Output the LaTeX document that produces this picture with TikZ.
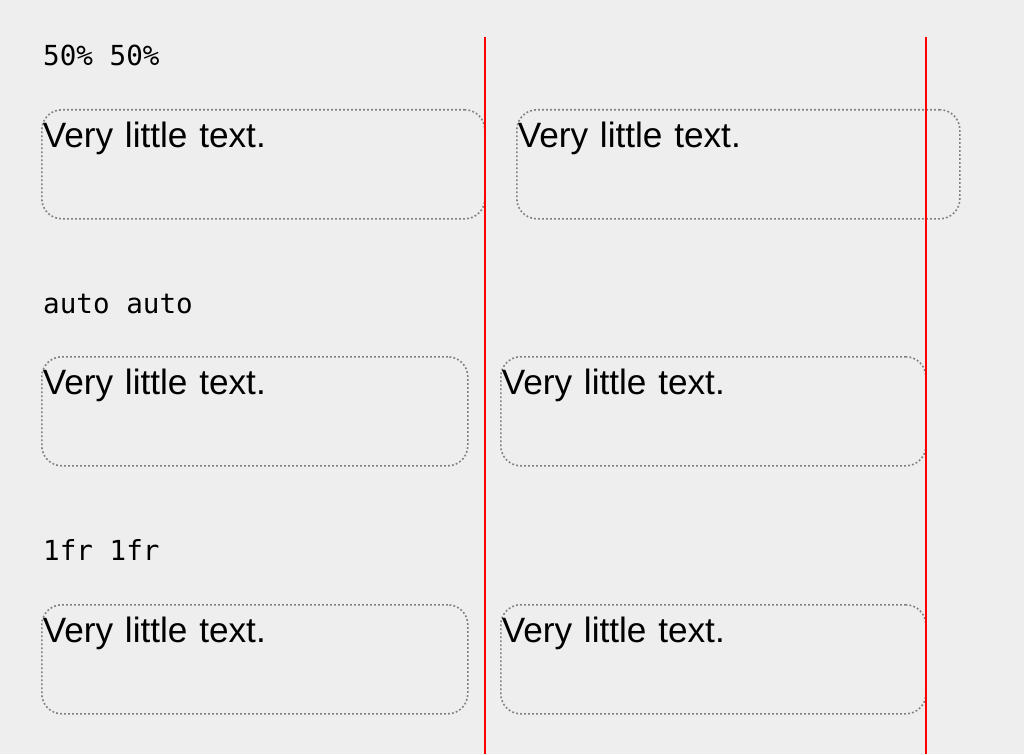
\documentclass[tikz,border=0pt]{standalone}
\usepackage{fontspec}
\setmainfont{Liberation Sans}
\setmonofont{DejaVu Sans Mono}
\usepackage{xcolor}
\usetikzlibrary{positioning,calc}
\definecolor{pagebg}{HTML}{EEEEEE}
\definecolor{cellrule}{HTML}{808080}
\definecolor{guidered}{HTML}{FF0000}

\begin{document}
\begin{tikzpicture}[
  x=1pt, y=-1pt,
  cell/.style={draw=cellrule, line width=1.6pt, dash pattern=on 1.8pt off 2.2pt,
               rounded corners=20pt, anchor=north west, align=left,
               inner xsep=1pt, inner ysep=0pt, text height=38pt, text depth=71pt,
               font=\fontsize{35.2}{40}\selectfont},
  lbl/.style={anchor=base west, inner sep=0pt, font=\ttfamily\fontsize{27.6}{32}\selectfont},
  guide/.style={draw=guidered, line width=2pt},
]
  \fill[pagebg] (0,0) rectangle (1024,754);
  \useasboundingbox (0,0) rectangle (1024,754);

  % 50% 50%
  \node[lbl] (l1) at (43,66) {50\% 50\%};
  \node[cell, text width=441pt] (c1a) at (41,109) {Very little text.};
  \node[cell, text width=441pt] (c1b) at (516,109) {Very little text.};

  % auto auto
  \node[lbl] (l2) at (43,313) {auto auto};
  \node[cell, text width=424pt] (c2a) at (41,356) {Very little text.};
  \node[cell, text width=423pt] (c2b) at (500,356) {Very little text.};

  % 1fr 1fr
  \node[lbl] (l3) at (43,560) {1fr 1fr};
  \node[cell, text width=424pt] (c3a) at (41,604) {Very little text.};
  \node[cell, text width=423pt] (c3b) at (500,604) {Very little text.};

  \coordinate (g1top) at (485,37);
  \coordinate (g1bot) at (485,754);
  \coordinate (g2top) at (926,37);
  \coordinate (g2bot) at (926,754);
  \draw[guide] (g1top) -- (g1bot);
  \draw[guide] (g2top) -- (g2bot);
\end{tikzpicture}
\end{document}
